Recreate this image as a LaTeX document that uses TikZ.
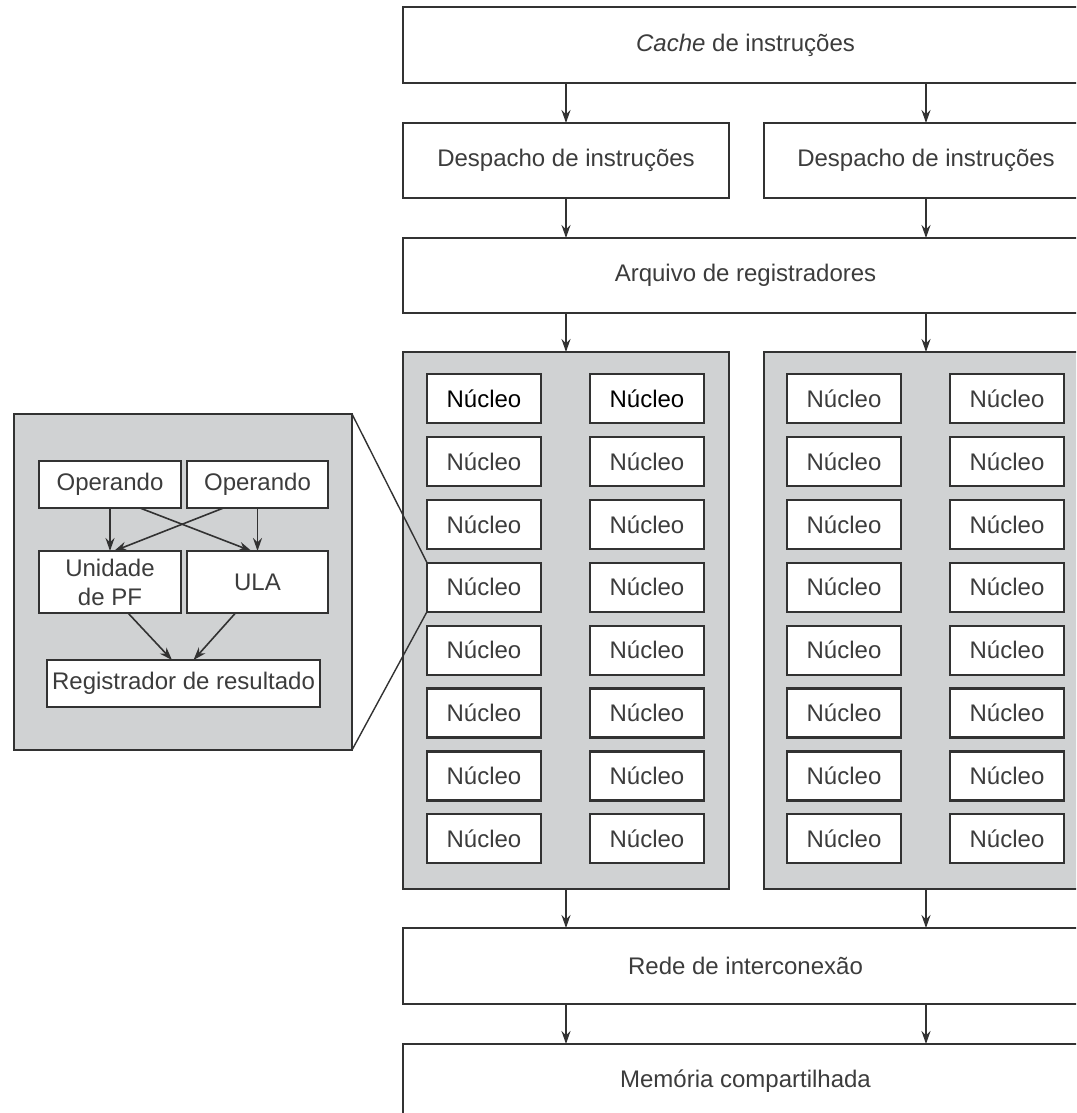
\documentclass[tikz,border=0pt]{standalone}
\usepackage{fontspec}
\setmainfont{Liberation Sans}
\usetikzlibrary{arrows.meta}
\definecolor{panelgray}{RGB}{208,210,211}
\definecolor{linegray}{RGB}{50,50,50}
\definecolor{textgray}{RGB}{60,60,60}

\begin{document}
\begin{tikzpicture}[x=0.5pt,y=-0.5pt,>={Stealth[length=6.5pt,width=4.5pt]},
  node distance=31.45pt,
  block/.style={draw=linegray,fill=white,line width=1.1pt,inner sep=0pt,outer sep=0pt,
    text=textgray,font=\fontsize{12}{14.5}\selectfont},
  wide block/.style={block,minimum width=342.5pt,minimum height=38pt},
  half block/.style={block,minimum height=37.5pt},
  panel/.style={draw=linegray,fill=panelgray,line width=1.1pt,inner sep=0pt,outer sep=0pt},
  core/.style={block,minimum width=57pt,minimum height=24.5pt},
  flow/.style={->,draw=linegray,line width=0.8pt}]
  \useasboundingbox (0,0) rectangle (1076,1113);
  \clip (0,0) rectangle (1076,1113);

  % main column
  \node[wide block] (cache) at (745.5,45) {\textit{Cache} de instruções};
  \node[half block,minimum width=163pt] (desp1) at (566,160.5) {Despacho de instruções};
  \node[half block,minimum width=162pt] (desp2) at (926,160.5) {Despacho de instruções};
  \node[wide block,minimum height=37.5pt] (arq) at (745.5,275.5) {Arquivo de registradores};
  \node[panel,minimum width=163pt,minimum height=268.5pt] (panelL) at (566,620.5) {};
  \node[panel,minimum width=162pt,minimum height=268.5pt] (panelR) at (926,620.5) {};
  \node[wide block] (rede) at (745.5,966) {Rede de interconexão};
  \node[wide block,minimum height=37pt] (mem) at (745.5,1081) {Memória compartilhada};

  % cores
  \node[core,text=black] (c11) at (484,398.5) {Núcleo};
  \node[core,text=black] (c12) [right of=c11,node distance=81.5pt] {Núcleo};
  \node[core] (c13) at (844,398.5) {Núcleo};
  \node[core] (c14) [right of=c13,node distance=81.5pt] {Núcleo};
  \node[core] (c21) [below of=c11] {Núcleo};
  \node[core] (c22) [below of=c12] {Núcleo};
  \node[core] (c23) [below of=c13] {Núcleo};
  \node[core] (c24) [below of=c14] {Núcleo};
  \node[core] (c31) [below of=c21] {Núcleo};
  \node[core] (c32) [below of=c22] {Núcleo};
  \node[core] (c33) [below of=c23] {Núcleo};
  \node[core] (c34) [below of=c24] {Núcleo};
  \node[core] (c41) [below of=c31] {Núcleo};
  \node[core] (c42) [below of=c32] {Núcleo};
  \node[core] (c43) [below of=c33] {Núcleo};
  \node[core] (c44) [below of=c34] {Núcleo};
  \node[core] (c51) [below of=c41] {Núcleo};
  \node[core] (c52) [below of=c42] {Núcleo};
  \node[core] (c53) [below of=c43] {Núcleo};
  \node[core] (c54) [below of=c44] {Núcleo};
  \node[core] (c61) [below of=c51] {Núcleo};
  \node[core] (c62) [below of=c52] {Núcleo};
  \node[core] (c63) [below of=c53] {Núcleo};
  \node[core] (c64) [below of=c54] {Núcleo};
  \node[core] (c71) [below of=c61] {Núcleo};
  \node[core] (c72) [below of=c62] {Núcleo};
  \node[core] (c73) [below of=c63] {Núcleo};
  \node[core] (c74) [below of=c64] {Núcleo};
  \node[core] (c81) [below of=c71] {Núcleo};
  \node[core] (c82) [below of=c72] {Núcleo};
  \node[core] (c83) [below of=c73] {Núcleo};
  \node[core] (c84) [below of=c74] {Núcleo};

  \path[every edge/.style={flow}]
    (desp1.north |- cache.south) edge (desp1.north)
    (desp2.north |- cache.south) edge (desp2.north)
    (desp1.south) edge (desp1.south |- arq.north)
    (desp2.south) edge (desp2.south |- arq.north)
    (arq.south -| panelL.north) edge (panelL.north)
    (arq.south -| panelR.north) edge (panelR.north)
    (panelL.south) edge (panelL.south |- rede.north)
    (panelR.south) edge (panelR.south |- rede.north)
    (rede.south -| panelL.south) edge (panelL.south |- mem.north)
    (rede.south -| panelR.south) edge (panelR.south |- mem.north);

  % detail of one core
  \node[panel,minimum width=169pt,minimum height=168pt] (inset) at (183,582) {};
  \node[block,minimum width=71pt,minimum height=23.5pt] (op1) at (110,484.5) {Operando};
  \node[block,minimum width=70.5pt,minimum height=23.5pt] (op2) at (257.5,484.5) {Operando};
  \node[block,minimum width=71pt,minimum height=31pt,align=center] (fpu) at (110,582) {Unidade\\de PF};
  \node[block,minimum width=70.5pt,minimum height=31pt] (ula) at (257.5,582) {ULA};
  \node[block,minimum width=136.5pt,minimum height=23.5pt] (reg) at (183.5,683.5) {Registrador de resultado};
  \path[every edge/.style={flow}]
    (op1.south) edge (fpu.north)
    (op2.south) edge (ula.north)
    ([xshift=15pt]op1.south) edge ([xshift=-3pt]ula.north)
    ([xshift=-17pt]op2.south) edge ([xshift=2pt]fpu.north)
    ([xshift=9pt]fpu.south) edge ([xshift=-5.75pt]reg.north)
    ([xshift=-11pt]ula.south) edge ([xshift=5pt]reg.north);
  \draw[linegray,line width=0.7pt] (inset.north east) -- (c41.north west);
  \draw[linegray,line width=0.7pt] (inset.south east) -- (c41.south west);
\end{tikzpicture}
\end{document}
